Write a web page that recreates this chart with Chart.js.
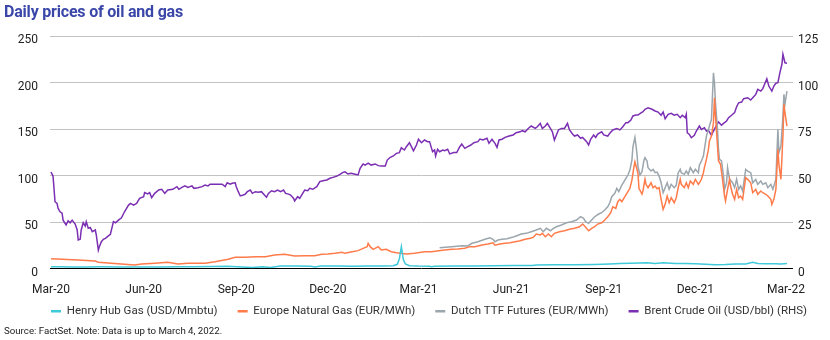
<!DOCTYPE html>
<html>
<head>
<meta charset="utf-8">
<script src="https://cdn.jsdelivr.net/npm/chart.js@4.4.1/dist/chart.umd.min.js"></script>
<style>
  html, body { margin: 0; padding: 0; background: #fff; }
  #wrap { position: relative; width: 830px; height: 340px; overflow: hidden; }
  #title { position: absolute; left: 4px; top: 2px; font: bold 16px Roboto, sans-serif; color: #3a47a8; letter-spacing: -0.2px; white-space: nowrap; }
  #source { position: absolute; left: 4px; top: 325px; font: 9.7px Roboto, sans-serif; color: #222; white-space: nowrap; }
  #chart { position: absolute; left: 0; top: 0; }
</style>
</head>
<body>
<div id="wrap">
  <canvas id="chart" width="830" height="340"></canvas>
  <div id="title">Daily prices of oil and gas</div>
  <div id="source">Source: FactSet. Note: Data is up to March 4, 2022.</div>
</div>
<script>
// x values are days since 1 March 2020
const tickDays = [0, 92, 184, 275, 365, 457, 549, 640, 730];
const tickLabels = ['Mar-20', 'Jun-20', 'Sep-20', 'Dec-20', 'Mar-21', 'Jun-21', 'Sep-21', 'Dec-21', 'Mar-22'];

// [day, USD/Mmbtu]
const henryHub = [[0,1.9],[10,1.8],[20,1.7],[35,1.6],[50,1.8],[65,1.7],[80,1.7],[95,1.6],[110,1.7],[125,1.8],[140,1.8],[160,2.1],[175,2.4],[185,2.0],[200,1.2],[210,1.8],[218,1.0],[228,2.7],[245,2.6],[258,2.4],[262,1.5],[268,2.6],[285,2.7],[300,2.5],[315,2.7],[330,2.8],[340,3.0],[344,4.5],[346,10.5],[348,23.5],[350,9.5],[352,4.8],[356,3.0],[365,2.6],[376,2.5],[378,1.8],[381,2.5],[400,2.6],[420,2.8],[440,3.0],[460,3.1],[478,3.2],[482,3.8],[500,3.9],[520,4.0],[540,4.4],[555,4.9],[565,5.3],[575,5.6],[585,5.8],[592,6.1],[600,5.4],[608,6.2],[620,5.5],[630,5.4],[640,5.1],[650,4.7],[660,4.0],[670,4.2],[680,4.8],[690,4.9],[697,6.6],[702,5.3],[710,5.0],[720,5.2],[725,4.9],[731,5.3]];

// [day, EUR/MWh]
const europeGas = [[0,10.5],[11,9.9],[27,9.1],[44,8.1],[47,6.7],[60,5.6],[73,4.5],[83,3.8],[90,4.8],[103,5.6],[116,6.7],[126,4.8],[136,5.6],[142,5.6],[153,5.6],[163,7.3],[176,9.9],[183,12],[193,12],[203,12.7],[213,12.7],[222,14.5],[232,15.2],[242,13.4],[252,13.8],[262,13.8],[269,15.2],[275,15.6],[282,16.3],[289,17.4],[292,16.3],[299,18],[305,19.2],[310,21.7],[314,23.5],[315,27.1],[317,23.5],[320,20.6],[325,23.5],[328,19.9],[333,20.6],[338,18],[343,17],[347,16.3],[353,15.6],[361,16.3],[371,18],[378,18],[385,19.2],[391,19.9],[398,20.6],[404,21],[411,21.7],[416,23.5],[421,23.5],[428,25.3],[434,26.3],[439,27.7],[441,25],[446,26.3],[451,27.1],[456,27.7],[461,28.8],[466,29.9],[471,31.4],[476,32.5],[479,33.5],[482,37.1],[486,36],[488,37.8],[491,34.2],[494,37.1],[497,34.2],[500,37.8],[505,39.6],[510,40.6],[515,42.1],[520,43.2],[525,44.9],[528,47.8],[530,45.7],[534,40.6],[537,43.2],[540,44.9],[543,47.8],[547,49.2],[550,52.1],[553,55.7],[556,60],[558,66.4],[561,64.7],[563,71.8],[565,74.4],[567,71.8],[570,77.2],[573,82.6],[575,86.2],[577,95.1],[579,109.4],[580,114.8],[583,102.3],[584,86.2],[587,80.1],[588,83.6],[590,96],[591,90.5],[593,86.9],[596,92.2],[598,86.9],[600,88.7],[602,85.8],[604,86.9],[606,74.4],[608,63.6],[610,69],[612,77.9],[614,70.7],[616,76.1],[619,70.7],[621,76.1],[623,86.9],[625,95.9],[626,90.5],[629,86.9],[631,92.2],[633,86.9],[635,94.1],[638,90.5],[640,95.9],[643,90.5],[644,92.2],[646,95.9],[648,103],[649,108.4],[651,117.4],[653,128.1],[654,137.1],[656,142.4],[658,156.7],[659,183.6],[660,164],[662,131.7],[663,115.6],[665,112],[667,95.9],[669,77.9],[670,72.6],[672,85.1],[674,95.9],[675,88.7],[677,79.8],[679,74.4],[681,85.1],[683,76.1],[685,77.9],[687,74.4],[690,97.6],[692,95.9],[695,92.2],[697,81.5],[700,85.1],[702,79.8],[705,83.3],[707,81.5],[710,79.8],[712,77.9],[715,74.4],[716,69],[718,74.4],[720,85.1],[721,106.6],[722,128.1],[723,112],[725,95.9],[727,142.4],[728,176.5],[729,167.5],[731,153.2]];

// [day, EUR/MWh]
const dutchTtf = [[386,22.4],[398,23.5],[408,24.5],[414,24.2],[418,27.1],[424,28.8],[431,31.4],[436,33.1],[439,31.4],[441,28.8],[444,30.6],[448,31.4],[453,32],[458,33.5],[462,34.9],[467,37.1],[472,37.8],[477,39.6],[482,41.4],[486,43.2],[489,39.6],[492,43.2],[496,40.6],[499,43.2],[502,44.9],[507,46.8],[512,49.2],[517,50.3],[522,52.1],[526,55.7],[529,54],[531,50.3],[534,48.6],[537,52.1],[540,55.7],[544,58.6],[547,60],[550,62.9],[553,66.4],[555,70.7],[557,77.2],[560,80.8],[562,86.2],[564,82.6],[567,89.8],[570,95.1],[573,100.5],[575,105.9],[577,116.6],[578,130.9],[580,141],[582,123.8],[583,109.4],[585,100.5],[587,104.1],[589,116.6],[590,119.1],[592,115.6],[593,108.4],[596,104.8],[598,106.6],[600,103],[602,103.7],[604,99.4],[606,92.2],[608,81.5],[610,86.9],[612,92.2],[614,85.1],[616,90.5],[619,86.9],[621,89.4],[623,103],[625,106.6],[626,103],[629,101.3],[631,104.8],[633,101.3],[635,108.4],[638,103],[640,106.6],[643,103],[644,111],[646,115.6],[648,120.9],[649,128.1],[651,142.4],[653,149.6],[654,153.2],[656,160.4],[657,185.4],[658,210.5],[659,199.7],[660,178.2],[662,149.6],[663,128.1],[664,117.4],[666,115.6],[668,99.4],[669,85.1],[671,92.2],[672,108.4],[674,95.9],[677,92.2],[679,86.9],[681,95.9],[683,85.1],[685,88.7],[687,83.3],[690,106.6],[692,104.8],[695,103],[697,92.2],[700,95.9],[702,90.5],[705,94.1],[707,90.5],[710,92.2],[712,86.9],[715,90.5],[717,85.1],[720,95.9],[721,122.8],[722,149.6],[723,124.5],[725,131.7],[727,164],[728,187.3],[729,176.5],[731,190.8]];

// [day, USD/bbl]
const brentCrude = [[0,51.9],[2,49.7],[4,35.9],[6,35],[7,32.4],[9,30.5],[11,29.7],[12,26],[15,23.4],[17,25.7],[19,24.6],[21,26],[24,23.9],[26,20.7],[27,15.3],[29,15.7],[30,20.7],[32,24.6],[34,22.8],[35,25.2],[37,21.6],[39,22.1],[41,19.8],[44,20.7],[45,18],[47,9.9],[48,11.7],[50,14.4],[52,15.7],[54,16.2],[57,17.5],[59,18.4],[62,25.2],[64,24.6],[67,26],[70,27.3],[73,30.5],[77,34.1],[79,35],[82,34.1],[85,35],[88,37.7],[92,38.6],[93,40.8],[96,40.1],[98,40.8],[100,38.1],[103,40.4],[107,42.2],[110,42.6],[113,40.4],[116,42.2],[121,42.6],[125,44],[127,42.6],[130,43.6],[133,44.4],[136,43.6],[140,44.4],[142,43.1],[146,43.4],[150,44],[153,44.9],[156,44.4],[158,45.3],[165,45.3],[170,45.3],[173,44],[175,46.1],[178,45.3],[180,45.8],[183,46.1],[184,44],[186,41.3],[188,39],[191,39.5],[193,40],[195,41.3],[198,42.2],[200,40.4],[203,41.3],[206,41],[209,41.3],[212,39.5],[214,38.3],[216,40.4],[219,41.8],[222,41.3],[225,42.2],[228,41.3],[231,42.2],[233,40.4],[236,40],[238,39.5],[241,37.7],[242,36.3],[245,38.6],[247,37.7],[250,40.4],[252,42.2],[255,41.8],[257,43.1],[260,42.6],[264,44],[267,46.7],[270,47.2],[274,47.6],[277,48.5],[280,49],[284,49.7],[287,50.6],[290,51.7],[292,52],[295,50.8],[298,51.2],[301,50.8],[305,50.3],[307,53.9],[310,56.2],[312,55.6],[315,56.6],[318,55.6],[322,56.2],[325,55.3],[328,55.1],[332,55.1],[334,58.3],[337,59.8],[340,60.5],[343,61.9],[346,62.3],[348,64.9],[351,63.7],[353,65.5],[356,67.6],[358,65.5],[360,63.3],[363,66.4],[365,69.5],[368,67.6],[371,69.1],[374,68.2],[376,68.2],[379,62.8],[381,63.7],[382,60.5],[384,64.1],[386,62.8],[389,63.7],[391,63.3],[394,64.1],[396,61.6],[400,62.3],[403,62.3],[406,65.5],[408,66.9],[411,64.6],[414,65.5],[417,66.4],[420,67.6],[424,68.2],[426,69.6],[429,69.1],[433,70],[435,67.3],[438,69.5],[441,67.3],[443,65.1],[445,69.1],[448,69.5],[451,70.5],[455,71.2],[459,71.8],[462,73],[466,73.5],[468,74.1],[471,73.5],[474,75.3],[477,76.6],[481,75.3],[483,76.2],[486,78],[488,75.3],[491,76.6],[493,78],[496,75.3],[498,73.5],[500,69.1],[502,71.8],[504,74.5],[507,75.3],[510,75.3],[513,78],[515,74.5],[518,72.3],[520,71.2],[523,71.8],[526,70],[528,70.5],[532,68.2],[534,66.4],[536,69.5],[539,71.8],[541,70.5],[543,72.3],[547,73.5],[549,71.8],[553,71.2],[555,72.7],[558,74.5],[562,75.3],[565,74.5],[568,76.2],[571,78.4],[573,78.4],[576,79.8],[578,82],[581,82.5],[583,82.5],[586,83.7],[588,84.3],[590,85.6],[593,86.4],[597,85.6],[600,84.7],[603,84.1],[606,82.4],[608,84.1],[610,80.5],[613,82.9],[616,83.4],[619,82.4],[622,82.9],[625,81.1],[627,82.4],[630,81.1],[631,82.9],[632,73],[634,72.1],[636,70.3],[639,71.6],[641,73.9],[644,76.6],[646,74.8],[649,75.7],[651,73.9],[653,74.3],[656,71.6],[658,73.9],[661,77],[663,78.8],[666,77],[668,78],[671,79.3],[673,81.1],[676,82.4],[679,83.8],[681,87],[683,89.1],[686,89.5],[688,91.3],[692,91.8],[695,90.6],[697,91.8],[700,93.6],[702,96.3],[705,95.4],[707,96.7],[711,102],[713,98.1],[716,95.4],[718,98.1],[720,99.6],[722,99.9],[724,105.3],[726,109.8],[727,115.2],[729,110.6],[731,110.3]];

const toPoints = rows => rows.map(([day, value]) => ({ x: day, y: value }));

Chart.defaults.font.family = 'Roboto, sans-serif';
Chart.defaults.color = '#222';

const tickFont = { family: 'Roboto, sans-serif', size: 12 };

// Tuck the legend row up under the month labels and centre it a little right of the canvas middle.
const legendPlacement = {
  id: 'legendPlacement',
  afterLayout(chart) {
    const lg = chart.legend;
    if (!lg) return;
    lg.top -= 13; lg.bottom -= 13;
    lg.left += 14; lg.right += 14;
  }
};

new Chart(document.getElementById('chart'), {
  type: 'line',
  data: {
    datasets: [
      { label: 'Henry Hub Gas (USD/Mmbtu)', data: toPoints(henryHub), borderColor: '#3fc9d9', yAxisID: 'y' },
      { label: 'Europe Natural Gas (EUR/MWh)', data: toPoints(europeGas), borderColor: '#ff7b4a', yAxisID: 'y' },
      { label: 'Dutch TTF Futures (EUR/MWh)', data: toPoints(dutchTtf), borderColor: '#9ba6ad', yAxisID: 'y' },
      { label: 'Brent Crude Oil (USD/bbl) (RHS)', data: toPoints(brentCrude), borderColor: '#7b2fb3', yAxisID: 'y1' }
    ]
  },
  plugins: [legendPlacement],
  options: {
    responsive: false,
    animation: false,
    devicePixelRatio: 1,
    layout: { padding: { top: 36, left: 0, right: 0, bottom: 0 } },
    elements: {
      line: { borderWidth: 1.5, tension: 0, fill: false },
      point: { radius: 0, hoverRadius: 0 }
    },
    scales: {
      x: {
        type: 'linear',
        min: -1,
        max: 737,
        grid: { display: false, drawTicks: false },
        border: { display: false },
        ticks: {
          autoSkip: false,
          maxRotation: 0,
          padding: 14,
          font: tickFont,
          color: '#222',
          callback: value => {
            const i = tickDays.indexOf(value);
            return i >= 0 ? tickLabels[i] : '';
          }
        },
        afterBuildTicks: scale => { scale.ticks = tickDays.map(v => ({ value: v })); },
        afterFit: scale => { scale.height = 30; }
      },
      y: {
        position: 'left',
        min: 0,
        max: 250,
        grid: {
          drawTicks: false,
          lineWidth: 1,
          color: c => (c.tick && c.tick.value === 0 ? '#000' : '#c2c2c2')
        },
        border: { display: false },
        ticks: { stepSize: 50, padding: 12, labelOffset: 4, font: tickFont, color: '#222' },
        afterFit: scale => { scale.width = 50; }
      },
      y1: {
        position: 'right',
        min: 0,
        max: 125,
        grid: { display: false, drawTicks: false },
        border: { display: false },
        ticks: { stepSize: 25, padding: 5, labelOffset: 4, font: tickFont, color: '#222' },
        afterFit: scale => { scale.width = 37; }
      }
    },
    plugins: {
      tooltip: { enabled: false },
      legend: {
        position: 'bottom',
        labels: {
          usePointStyle: true,
          pointStyle: 'line',
          pointStyleWidth: 10,
          padding: 20,
          color: '#333',
          font: { family: 'Roboto, sans-serif', size: 11.5 },
          generateLabels: chart => Chart.defaults.plugins.legend.labels.generateLabels(chart).map(item => ({ ...item, lineWidth: 2.5 }))
        }
      }
    }
  }
});
</script>
</body>
</html>
